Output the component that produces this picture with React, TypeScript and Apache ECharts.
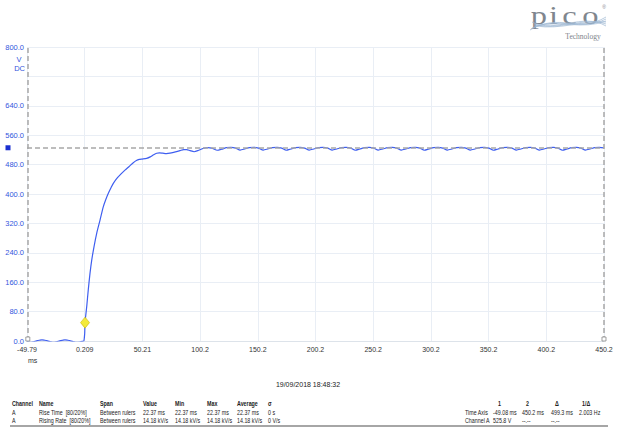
import React, { useEffect, useRef } from "react";
import * as echarts from "echarts";

const X_MIN = -49.79;
const X_MAX = 450.21;
const X_STEP = 50;
const xTickLabels = ["-49.79", "0.209", "50.21", "100.2", "150.2", "200.2", "250.2", "300.2", "350.2", "400.2", "450.2"];
const Y_MAX = 800;
const Y_STEP = 80;

const timesMs = [
  -49.79, -47, -44, -41.5, -39, -36.8, -34.5, -32, -29.5, -27, -24, -21.5, -19, -16.9, -14.5, -12, -9.5, -7, -4, -2, -0.5,
  0.0, 0.2, 0.5, 1.2, 2.0, 3.3, 4.8, 6.3, 8.3, 10.6, 13.5, 16.3, 18.5, 20.7, 23, 25, 27.9, 31.5, 35.1, 38.7, 42.3, 45, 47.5,
  50, 53.9, 57, 60, 62.6, 65, 68, 71, 74.1, 78, 82.8, 86, 88.6, 91.5, 95, 99, 103, 107, 111,
  115.0, 119.0, 123.0, 127.0, 131.0,
  134.9, 138.9, 142.9, 146.9, 150.9,
  154.9, 158.9, 162.9, 166.9, 170.9,
  174.8, 178.8, 182.8, 186.8, 190.8,
  194.8, 198.8, 202.8, 206.8, 210.8,
  214.7, 218.7, 222.7, 226.7, 230.7,
  234.7, 238.7, 242.7, 246.7, 250.7,
  254.6, 258.6, 262.6, 266.6, 270.6,
  274.6, 278.6, 282.6, 286.6, 290.6,
  294.5, 298.5, 302.5, 306.5, 310.5,
  314.5, 318.5, 322.5, 326.5, 330.5,
  334.4, 338.4, 342.4, 346.4, 350.4,
  354.4, 358.4, 362.4, 366.4, 370.4,
  374.3, 378.3, 382.3, 386.3, 390.3,
  394.3, 398.3, 402.3, 406.3, 410.3,
  414.2, 418.2, 422.2, 426.2, 430.2,
  434.2, 438.2, 442.2, 446.2, 450.2,
];
const voltsV = [
  -2, -4, -2, 0.5, 2, 3, 2, 0.5, -2, -4, -2, 0.5, 2, 3, 2, 0.5, -2, -4, -3, -1, 0,
  0, 20, 50, 72, 95, 139, 184, 220, 257, 293, 329, 365, 385, 402, 417, 429, 442, 454, 465, 475, 485, 491, 494,
  495, 497, 501, 507, 511, 512, 511, 510, 511, 514, 518, 521, 521, 518, 515, 519, 524, 526, 524,
  519, 522, 526, 527, 525,
  519.5, 522.5, 526, 527, 525,
  519.5, 522.5, 526, 527, 525,
  519, 522.5, 526, 527, 525,
  519.5, 522.5, 526, 527, 525,
  519.5, 522.5, 526, 527, 525,
  519, 522.5, 526, 527, 525,
  519.5, 522.5, 526, 527, 525,
  519.5, 522.5, 526, 527, 525,
  519, 522.5, 526, 527, 525,
  519.5, 522.5, 526, 527, 525,
  519.5, 522.5, 526, 527, 525,
  519, 522.5, 526, 527, 525,
  519.5, 522.5, 526, 527, 525,
  519.5, 522.5, 526, 527, 525,
  519, 522.5, 526, 527, 525,
  519.5, 522.5, 526, 527, 525.5,
];

const rulerTimes = [-49.08, 450.2];
const rulerVolt = 525.8;
const triggerPoint = [0.5, 50];

const dateText = "19/09/2018 18:48:32";
const measHeaders = ["Channel", "Name", "Span", "Value", "Min", "Max", "Average", "σ"];
const measRow1 = ["A", "Rise Time  [80/20%]", "Between rulers", "22.37 ms", "22.37 ms", "22.37 ms", "22.37 ms", "0 s"];
const measRow2 = ["A", "Rising Rate  [80/20%]", "Between rulers", "14.18 kV/s", "14.18 kV/s", "14.18 kV/s", "14.18 kV/s", "0 V/s"];
const measCols = [12, 39, 100, 143, 175, 207, 237, 268];
const rulerHeaders = ["", "1", "2", "Δ", "1/Δ"];
const rulerRow1 = ["Time Axis", "-49.08 ms", "450.2 ms", "499.3 ms", "2.003 Hz"];
const rulerRow2 = ["Channel A", "525.8 V", "--.--", "--.--", ""];
const rulerCols = [465, 493, 522, 551, 579];
const rulerHeadCols = [465, 498, 526, 555, 582];

const FONT = "'Liberation Sans', 'DejaVu Sans', sans-serif";
const SERIF = "'Liberation Serif', 'DejaVu Serif', serif";

function txt(text: string, x: number, y: number, opts: any = {}) {
  return {
    type: "text",
    x,
    y,
    silent: true,
    scaleX: opts.scaleX ?? 1,
    style: {
      text,
      fill: opts.fill ?? "#222",
      fontSize: opts.size ?? 6.5,
      fontFamily: opts.family ?? FONT,
      fontWeight: opts.bold ? "bold" : "normal",
      textAlign: opts.align ?? "left",
      textVerticalAlign: "middle",
    },
  };
}

export default function App() {
  const ref = useRef<HTMLDivElement>(null);
  useEffect(() => {
    const chart = echarts.init(ref.current!, null, { renderer: "svg" });
    const graphics: any[] = [];
    const T = { scaleX: 0.82 };
    graphics.push(txt("V", 19, 59, { fill: "#3355dd", size: 7.5, align: "center" }));
    graphics.push(txt("DC", 25, 68, { fill: "#3355dd", size: 7.5, align: "right" }));
    graphics.push(txt("ms", 28, 360, { fill: "#333", size: 7 }));
    graphics.push(txt(dateText, 308, 384, { fill: "#222", size: 7, align: "center" }));
    measHeaders.forEach((h, i) => graphics.push(txt(h, measCols[i], 404, { ...T, bold: true })));
    measRow1.forEach((h, i) => graphics.push(txt(h, measCols[i], 412.5, T)));
    measRow2.forEach((h, i) => graphics.push(txt(h, measCols[i], 421, T)));
    rulerHeaders.forEach((h, i) => graphics.push(txt(h, rulerHeadCols[i], 404, { ...T, bold: true })));
    rulerRow1.forEach((h, i) => graphics.push(txt(h, rulerCols[i], 412.5, T)));
    rulerRow2.forEach((h, i) => graphics.push(txt(h, rulerCols[i], 421, T)));
    graphics.push({ type: "line", silent: true, shape: { x1: 10, y1: 426, x2: 608, y2: 426 }, style: { stroke: "#888", lineWidth: 1.5 } });
    // logo
    const letters = ["p", "i", "c", "o"];
    const letterX = [539, 553.5, 569.5, 590.5];
    letters.forEach((l, i) => graphics.push(txt(l, letterX[i], 15, { fill: "#80868e", size: 25, family: SERIF, align: "center", scaleX: 1.3 })));
    graphics.push(txt("®", 604, 7, { fill: "#80868e", size: 5, align: "center" }));
    const waves = [
      [530, 30, 560, 12, 578, 34, 606, 17],
      [532, 28, 560, 16, 580, 32, 606, 19],
      [534, 26, 562, 20, 582, 30, 606, 21],
      [532, 22, 556, 34, 582, 12, 606, 26],
      [534, 24, 558, 32, 584, 16, 606, 24],
      [536, 26, 560, 30, 586, 20, 606, 22],
    ];
    waves.forEach((w) =>
      graphics.push({
        type: "bezierCurve",
        silent: true,
        shape: { x1: w[0], y1: w[1], cpx1: w[2], cpy1: w[3], cpx2: w[4], cpy2: w[5], x2: w[6], y2: w[7] },
        style: { stroke: "#9db7d3", lineWidth: 0.7, fill: null },
      })
    );
    graphics.push(txt("Technology", 583, 36, { fill: "#7d838a", size: 7.5, family: SERIF, align: "center" }));

    const data = timesMs.map((t, i) => [t, voltsV[i]]);
    chart.setOption({
      animation: false,
      backgroundColor: "#fff",
      grid: { left: 27, right: 16, top: 47, bottom: 87, containLabel: false },
      xAxis: {
        type: "value",
        min: X_MIN,
        max: X_MAX,
        interval: X_STEP,
        axisLine: { show: true, lineStyle: { color: "#dde3ea", width: 1 } },
        axisTick: { show: false },
        splitLine: { show: true, lineStyle: { color: "#e9eef5", width: 1 } },
        axisLabel: {
          color: "#333",
          fontSize: 7,
          fontFamily: FONT,
          margin: 5,
          showMinLabel: true,
          showMaxLabel: true,
          formatter: (v: number) => xTickLabels[Math.round((v - X_MIN) / X_STEP)] ?? "",
        },
      },
      yAxis: {
        type: "value",
        min: 0,
        max: Y_MAX,
        interval: Y_STEP,
        axisLine: { show: false },
        axisTick: { show: false },
        splitLine: { show: true, lineStyle: { color: "#e9eef5", width: 1 } },
        axisLabel: {
          color: "#3355dd",
          fontSize: 7.5,
          fontFamily: FONT,
          margin: 3,
          formatter: (v: number) => (Math.round(v) === 720 ? "" : v.toFixed(1)),
        },
      },
      series: [
        {
          type: "line",
          data,
          showSymbol: false,
          smooth: 0.25,
          clip: true,
          lineStyle: { color: "#3f5ff0", width: 1.2 },
          itemStyle: { color: "#3f5ff0" },
          markLine: {
            silent: true,
            symbol: ["none", "none"],
            label: { show: false },
            lineStyle: { color: "#a8a8a8", width: 1.5, type: [5, 3] },
            data: [{ xAxis: rulerTimes[0] }, { xAxis: rulerTimes[1] }, { yAxis: rulerVolt }],
          },
          markPoint: {
            silent: true,
            label: { show: false },
            data: [
              {
                coord: triggerPoint,
                symbol: "diamond",
                symbolSize: [9, 11],
                itemStyle: { color: "#f3ea3a", borderColor: "#c9b700", borderWidth: 0.6 },
              },
              {
                coord: [X_MIN, rulerVolt],
                symbol: "rect",
                symbolSize: 5,
                symbolOffset: [-19, 0],
                itemStyle: { color: "#1a2fd0" },
              },
              {
                coord: [rulerTimes[0], 0],
                symbol: "rect",
                symbolSize: 4,
                symbolOffset: [0, -2],
                itemStyle: { color: "#fff", borderColor: "#888", borderWidth: 0.8 },
              },
              {
                coord: [rulerTimes[1], 0],
                symbol: "rect",
                symbolSize: 4,
                symbolOffset: [0, -2],
                itemStyle: { color: "#fff", borderColor: "#888", borderWidth: 0.8 },
              },
            ],
          },
        },
      ],
      graphic: graphics,
    });
    return () => chart.dispose();
  }, []);
  return <div ref={ref} style={{ position: "fixed", left: 0, top: 0, width: 620, height: 428 }} />;
}
